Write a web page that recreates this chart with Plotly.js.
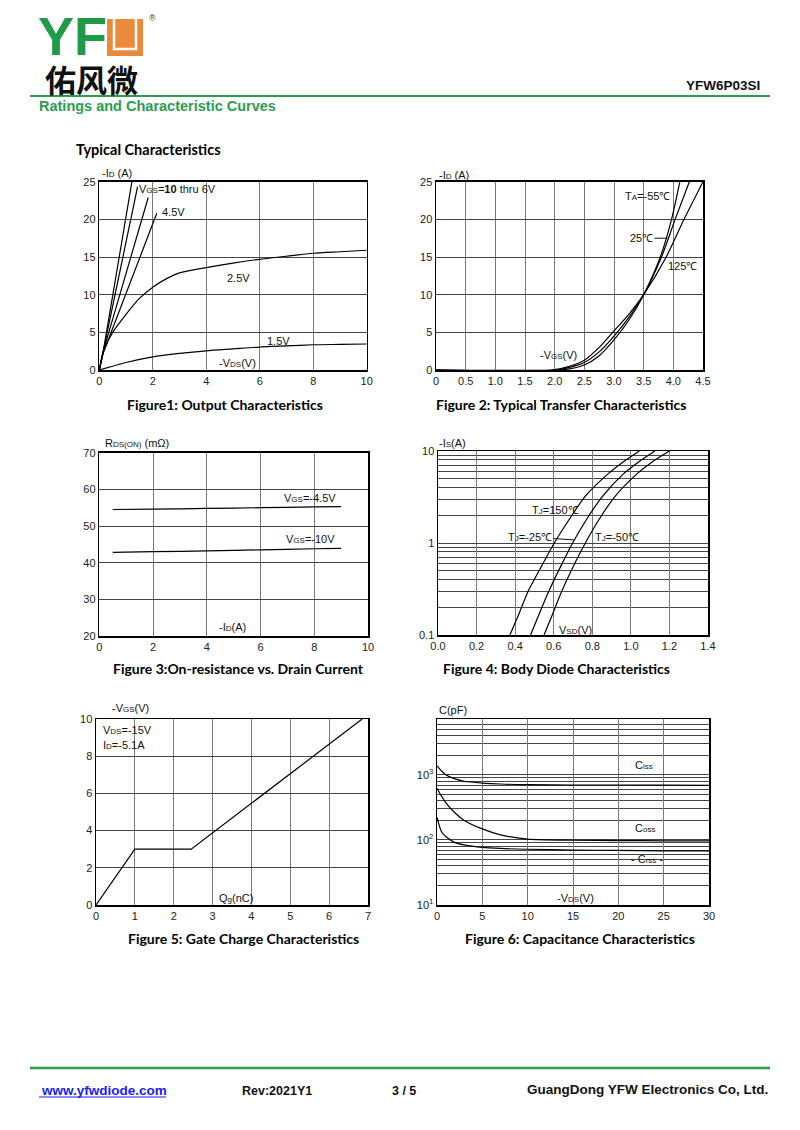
<!DOCTYPE html>
<html>
<head>
<meta charset="utf-8">
<script src="https://cdn.plot.ly/plotly-3.0.1.min.js"></script>
<style>html,body{margin:0;padding:0;background:#fff}#page{width:800px;height:1130px}</style>
</head>
<body>
<div id="page"></div>
<script>
// ---------- DATA ----------
// Figure 1: Output characteristics (-VDS vs -ID)
const f1_vds_10 = [0, 0.15, 1.22];
const f1_id_10  = [0, 2.5, 25];
const f1_vds_8  = [0, 0.15, 1.43];
const f1_id_8   = [0, 2.5, 24.3];
const f1_vds_6  = [0, 0.15, 1.83];
const f1_id_6   = [0, 2.5, 22.9];
const f1_vds_45 = [0, 0.15, 2.15];
const f1_id_45  = [0, 2.3, 20.8];
const f1_vds_25 = [0, 0.1, 0.2, 0.5, 1, 1.5, 2, 2.5, 3, 4, 5, 6, 7, 8, 9, 10];
const f1_id_25  = [0, 1.8, 2.9, 5.0, 7.4, 9.5, 11.0, 12.1, 12.9, 13.6, 14.2, 14.7, 15.1, 15.5, 15.7, 15.9];
const f1_vds_15 = [0, 1, 2, 3, 4, 5, 6, 7, 8, 9, 10];
const f1_id_15  = [0, 1.0, 1.75, 2.2, 2.55, 2.8, 3.05, 3.2, 3.35, 3.4, 3.45];

// Figure 2: Transfer characteristics
const f2_vgs_m55 = [0, 2.05, 2.25, 2.5, 2.75, 3.0, 3.25, 3.5, 3.78, 3.97, 4.11];
const f2_id_m55  = [0, 0, 0.15, 0.66, 1.9, 4.0, 6.6, 10, 15, 20, 25];
const f2_vgs_25  = [0, 2.0, 2.25, 2.5, 2.75, 3.0, 3.25, 3.5, 3.8, 4.03, 4.27];
const f2_id_25   = [0, 0, 0.35, 1.0, 2.4, 4.5, 7.0, 10, 15, 20, 25];
const f2_vgs_125 = [0, 1.95, 2.25, 2.5, 2.75, 3.0, 3.25, 3.5, 3.88, 4.18, 4.5];
const f2_id_125  = [0, 0, 0.5, 1.3, 3.0, 5.2, 7.4, 10, 15, 20, 25];
const f2_xticks  = [0, 0.5, 1, 1.5, 2, 2.5, 3, 3.5, 4, 4.5];
const f2_xlabels = ["0", "0.5", "1.0", "1.5", "2.0", "2.5", "3.0", "3.5", "4.0", "4.5"];

// Figure 3: On-resistance vs drain current
const f3_id      = [0.5, 2, 4, 6, 8, 9];
const f3_r_45    = [54.5, 54.6, 54.8, 55.0, 55.2, 55.3];
const f3_r_10    = [42.8, 43.0, 43.2, 43.5, 43.8, 43.9];

// Figure 4: Body diode characteristics
const f4_is      = [0.1, 0.17, 0.3, 0.55, 1, 1.8, 3.16, 5.6, 7.6, 10];
const f4_vsd_150 = [0.373, 0.42, 0.468, 0.535, 0.603, 0.68, 0.76, 0.88, 0.96, 1.044];
const f4_vsd_25  = [0.48, 0.525, 0.575, 0.635, 0.698, 0.77, 0.85, 0.96, 1.04, 1.125];
const f4_vsd_50  = [0.55, 0.595, 0.642, 0.70, 0.764, 0.835, 0.915, 1.03, 1.11, 1.2];
const f4_yticks  = [0.1, 1, 10];
const f4_ylabels = ["0.1", "1", "10"];
const f4_ygrid   = [0.2,0.3,0.4,0.5,0.6,0.7,0.8,0.9,2,3,4,5,6,7,8,9];

// Figure 5: Gate charge
const f5_qg  = [0, 1, 2.45, 6.85];
const f5_vgs = [0, 3, 3, 10];

// Figure 6: Capacitance
const f6_vds  = [0, 0.5, 1, 2, 3, 5, 7, 10, 15, 20, 25, 30];
const f6_ciss = [1380, 1150, 1000, 870, 800, 750, 725, 710, 700, 700, 695, 690];
const f6_coss = [624, 470, 370, 260, 200, 148, 120, 103, 99, 98, 97, 97];
const f6_crss = [223, 134, 112, 91, 84, 77, 74, 72, 70, 69, 68, 68];
const f6_yticks  = [10, 100, 1000];
const f6_ylabels = ["10<sup>1</sup>", "10<sup>2</sup>", "10<sup>3</sup>"];
const f6_ygrid   = [20,30,40,50,60,70,80,90,200,300,400,500,600,700,800,900,2000,3000,4000,5000,6000,7000];

// ---------- LAYOUT HELPERS ----------
const W = 800, H = 1130;
const px = x => x / W;
const py = y => 1 - y / H;
const ARIAL = 'Liberation Sans, Arial, sans-serif';
const CAP = 'Lato, Open Sans, sans-serif';
const GREEN = '#2a9d4f';

const line = {color: '#000', width: 1.2};
function tr(x, y, xa, ya, shape) {
  return {x: x, y: y, xaxis: xa, yaxis: ya, mode: 'lines', line: Object.assign({}, line, {shape: shape || 'linear', smoothing: 0.7}), hoverinfo: 'skip'};
}

const data = [
  tr(f1_vds_10, f1_id_10, 'x', 'y'),
  tr(f1_vds_8, f1_id_8, 'x', 'y'),
  tr(f1_vds_6, f1_id_6, 'x', 'y'),
  tr(f1_vds_45, f1_id_45, 'x', 'y'),
  tr(f1_vds_25, f1_id_25, 'x', 'y', 'spline'),
  tr(f1_vds_15, f1_id_15, 'x', 'y', 'spline'),
  tr(f2_vgs_m55, f2_id_m55, 'x2', 'y2', 'spline'),
  tr(f2_vgs_25, f2_id_25, 'x2', 'y2', 'spline'),
  tr(f2_vgs_125, f2_id_125, 'x2', 'y2', 'spline'),
  tr(f3_id, f3_r_45, 'x3', 'y3', 'spline'),
  tr(f3_id, f3_r_10, 'x3', 'y3', 'spline'),
  tr(f4_vsd_150, f4_is, 'x4', 'y4', 'spline'),
  tr(f4_vsd_25, f4_is, 'x4', 'y4', 'spline'),
  tr(f4_vsd_50, f4_is, 'x4', 'y4', 'spline'),
  tr(f5_qg, f5_vgs, 'x5', 'y5'),
  tr(f6_vds, f6_ciss, 'x6', 'y6', 'spline'),
  tr(f6_vds, f6_coss, 'x6', 'y6', 'spline'),
  tr(f6_vds, f6_crss, 'x6', 'y6', 'spline')
];

const tickfont = {family: ARIAL, size: 11, color: '#222'};
function ax(x0, x1, extra, anchor) {
  return Object.assign({
    domain: [px(x0), px(x1)], anchor: anchor, showgrid: true, gridcolor: '#7a7a7a', gridwidth: 1,
    zeroline: false, showline: true, mirror: true, linecolor: '#000', linewidth: 1.5,
    ticks: '', tickfont: tickfont, fixedrange: true
  }, extra);
}
function ay(y0, y1, extra, anchor) {
  return Object.assign({
    domain: [py(y1), py(y0)], anchor: anchor, showgrid: true, gridcolor: '#444', gridwidth: 1,
    zeroline: false, showline: true, mirror: true, linecolor: '#000', linewidth: 1.5,
    ticks: '', tickfont: tickfont, fixedrange: true
  }, extra);
}

const s = t => '<span style="font-size:8px">' + t + '</span>';
function T(text, x, y, o) {
  o = o || {};
  return {xref: 'paper', yref: 'paper', x: px(x), y: py(y), text: text, showarrow: false,
    xanchor: o.xanchor || 'left', yanchor: o.yanchor || 'middle',
    font: {family: o.family || ARIAL, size: o.size || 11, color: o.color || '#111'}};
}
function C(text, x, y) { return T('<b>' + text + '</b>', x, y, {xanchor: 'center', family: CAP, size: 14, color: '#000'}); }

const annotations = [
  // header
  T('<b>YF</b>', 36, 36, {size: 54, color: '#1f9a48'}),
  T('®', 147, 18, {size: 9, color: '#333'}),
  T('<b>佑风微</b>', 43, 78, {size: 31, family: 'Noto Sans CJK SC', color: '#111'}),
  T('<b>YFW6P03SI</b>', 762, 85, {xanchor: 'right', size: 13.5, color: '#111'}),
  T('<b>Ratings and Characteristic Curves</b>', 37, 106, {size: 14.5, color: GREEN}),
  T('<b>Typical Characteristics</b>', 74, 150, {size: 14.5, family: CAP, color: '#000'}),
  // fig 1
  T('-I' + s('D') + ' (A)', 100, 173),
  T('V' + s('GS') + '=<b>10</b> thru 6V', 137, 189),
  T('4.5V', 160, 212),
  T('2.5V', 225, 278),
  T('1.5V', 265, 341),
  T('-V' + s('DS') + '(V)', 217, 363),
  C('Figure1: Output Characteristics', 225, 404),
  // fig 2
  T('-I' + s('D') + ' (A)', 437, 175),
  T('T' + s('A') + '=-55℃', 623, 196),
  {xref: 'x2', yref: 'y2', x: 3.9, y: 17.5, text: '25℃', showarrow: true, arrowhead: 0, arrowwidth: 1, arrowcolor: '#111', ax: -26, ay: 0, font: {family: ARIAL, size: 11, color: '#111'}},
  T('125℃', 666, 266),
  T('-V' + s('GS') + '(V)', 538, 355),
  C('Figure 2: Typical Transfer Characteristics', 561, 404),
  // fig 3
  T('R' + s('DS(ON)') + ' (mΩ)', 103, 443),
  T('V' + s('GS') + '=-4.5V', 282, 498),
  T('V' + s('GS') + '=-10V', 284, 539),
  T('-I' + s('D') + '(A)', 217, 627),
  C('Figure 3:On-resistance vs. Drain Current', 238, 668),
  // fig 4
  T('-I' + s('S') + '(A)', 437, 443),
  T('T' + s('J') + '=150℃', 530, 510),
  {xref: 'x4', yref: 'y4', x: 0.705, y: Math.log10(1.08), text: 'T' + s('J') + '=-25℃', showarrow: true, arrowhead: 0, arrowwidth: 1, arrowcolor: '#111', ax: -44, ay: -3, font: {family: ARIAL, size: 11, color: '#111'}},
  T('T' + s('J') + '=-50℃', 593, 537),
  T('V' + s('SD') + '(V)', 557, 630),
  C('Figure 4: Body Diode Characteristics', 556, 668),
  // fig 5
  T('-V' + s('GS') + '(V)', 110, 708),
  T('V' + s('DS') + '=-15V', 101, 730),
  T('I' + s('D') + '=-5.1A', 101, 745),
  T('Q' + s('g') + '(nC)', 217, 898),
  C('Figure 5: Gate Charge Characteristics', 243, 938),
  // fig 6
  T('C(pF)', 437, 710),
  T('C' + s('iss'), 633, 765),
  T('C' + s('oss'), 633, 828),
  T('- C' + s('rss') + ' -', 629, 859),
  T('-V' + s('DS') + '(V)', 555, 898),
  C('Figure 6: Capacitance Characteristics', 580, 938),
  // footer
  T('<b>www.yfwdiode.com</b>', 39, 1090, {size: 13.5, color: '#1a1aff'}),
  T('<b>Rev:2021Y1</b>', 240, 1091, {size: 12.5, color: '#111'}),
  T('<b>3 / 5</b>', 390, 1091, {size: 12.5, color: '#111'}),
  T('<b>GuangDong YFW Electronics Co, Ltd.</b>', 770, 1089, {xanchor: 'right', size: 13.5, color: '#111'})
];

const shapes = [
  // logo "U"
  {type: 'rect', xref: 'paper', yref: 'paper', x0: px(107), x1: px(143), y0: py(56), y1: py(19), fillcolor: '#ec8a3c', line: {width: 0}},
  {type: 'path', xref: 'paper', yref: 'paper', path: 'M ' + px(114) + ' ' + py(19) + ' L ' + px(114) + ' ' + py(49) + ' L ' + px(136) + ' ' + py(49) + ' L ' + px(136) + ' ' + py(19), line: {color: '#fff', width: 2.5}},
  // header rule
  {type: 'line', xref: 'paper', yref: 'paper', x0: px(30), x1: px(770), y0: py(96), y1: py(96), line: {color: GREEN, width: 2}},
  // footer rule
  {type: 'line', xref: 'paper', yref: 'paper', x0: px(30), x1: px(770), y0: py(1068), y1: py(1068), line: {color: GREEN, width: 2.5}},
  // link underline
  {type: 'line', xref: 'paper', yref: 'paper', x0: px(39), x1: px(166), y0: py(1097), y1: py(1097), line: {color: '#1a1aff', width: 1}}
];

const minorGrid = vals => ({tickvals: vals, showgrid: true, gridcolor: '#444', gridwidth: 1, ticks: ''});

const layout = {
  width: W, height: H, margin: {l: 0, r: 0, t: 0, b: 0},
  paper_bgcolor: '#fff', plot_bgcolor: '#fff', showlegend: false,
  xaxis:  ax(99.3, 366.7, {range: [0, 10], dtick: 2, tick0: 0}, 'y'),
  yaxis:  ay(181.7, 370, {range: [0, 25], dtick: 5, tick0: 0}, 'x'),
  xaxis2: ax(436, 703, {range: [0, 4.5], tickvals: f2_xticks, ticktext: f2_xlabels}, 'y2'),
  yaxis2: ay(181.7, 370, {range: [0, 25], dtick: 5, tick0: 0}, 'x2'),
  xaxis3: ax(99.3, 368, {range: [0, 10], dtick: 2, tick0: 0}, 'y3'),
  yaxis3: ay(452.7, 636, {range: [20, 70], dtick: 10, tick0: 20}, 'x3'),
  xaxis4: ax(438, 708, {range: [0, 1.4], dtick: 0.2, tick0: 0, tickformat: '.1f'}, 'y4'),
  yaxis4: ay(451, 635, {type: 'log', range: [-1, 1], tickvals: f4_yticks, ticktext: f4_ylabels, minor: minorGrid(f4_ygrid)}, 'x4'),
  xaxis5: ax(96, 368, {range: [0, 7], dtick: 1, tick0: 0}, 'y5'),
  yaxis5: ay(719, 905, {range: [0, 10], dtick: 2, tick0: 0}, 'x5'),
  xaxis6: ax(437, 709, {range: [0, 30], dtick: 5, tick0: 0}, 'y6'),
  yaxis6: ay(719, 905, {type: 'log', range: [1, 3.86], tickvals: f6_yticks, ticktext: f6_ylabels, minor: minorGrid(f6_ygrid)}, 'x6'),
  annotations: annotations,
  shapes: shapes
};

Plotly.newPlot('page', data, layout, {staticPlot: true, displayModeBar: false});
</script>
</body>
</html>
